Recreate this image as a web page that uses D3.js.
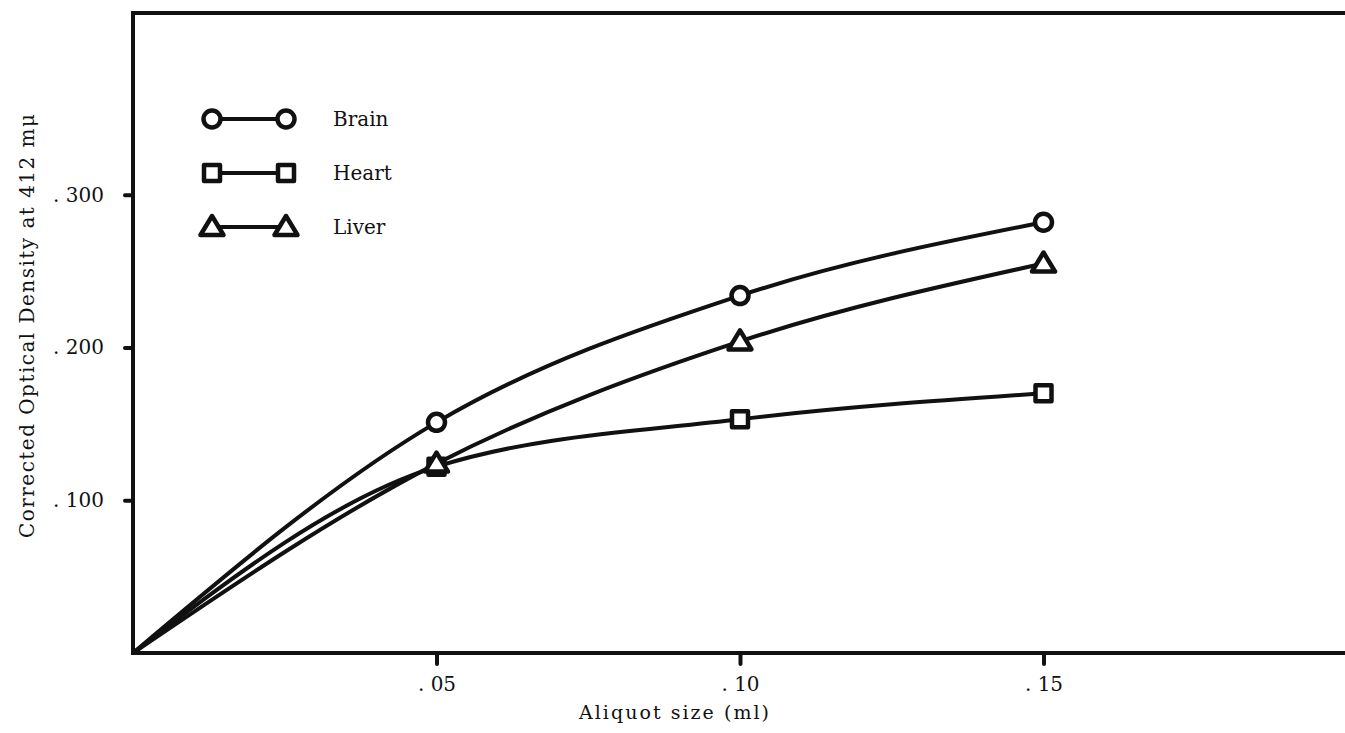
<!DOCTYPE html>
<html>
<head>
<meta charset="utf-8">
<script src="https://cdn.jsdelivr.net/npm/d3@7"></script>
<style>
  html, body { margin: 0; padding: 0; background: #fff; }
  svg text { font-family: "DejaVu Serif", "Liberation Serif", serif; fill: #111; }
</style>
</head>
<body>
<svg id="chart" width="1345" height="733"></svg>
<script>
// Aliquot sizes (ml) and corrected optical density at 412 mμ per tissue
const aliquots = [0, 0.05, 0.10, 0.15];
const brain = [0, 0.151, 0.234, 0.282];
const heart = [0, 0.122, 0.153, 0.170];
const liver = [0, 0.124, 0.204, 0.255];

const seriesNames = ["Brain", "Heart", "Liver"];
const seriesShapes = ["circle", "square", "triangle"];

const xTickValues = [0.05, 0.10, 0.15];
const xTickLabels = [". 05", ". 10", ". 15"];
const yTickValues = [0.1, 0.2, 0.3];
const yTickLabels = [". 100", ". 200", ". 300"];

const xTitle = "Aliquot size (ml)";
const yTitle = "Corrected Optical Density at 412 mμ";

const svg = d3.select("#chart");
const ink = "#111";

const x = d3.scaleLinear().domain([0, 0.2]).range([133, 1347]);
const y = d3.scaleLinear().domain([0, 0.419]).range([653, 13]);

// frame: left axis, top rule, bottom axis
const frame = svg.append("g").attr("stroke", ink).attr("stroke-width", 4).attr("fill", "none");
frame.append("path")
  .attr("d", `M1345,${y(0.419)} H${x(0)} V${y(0)} H1345`)
  .attr("stroke-linejoin", "miter");

// bottom axis ticks and labels
const xAxis = d3.axisBottom(x)
  .tickValues(xTickValues)
  .tickSize(11)
  .tickPadding(24)
  .tickFormat((d, i) => xTickLabels[i]);
const gx = svg.append("g").attr("transform", `translate(0,${y(0)})`).call(xAxis);
gx.select(".domain").remove();
gx.selectAll(".tick line").attr("stroke", ink).attr("stroke-width", 4).attr("stroke-linecap", "round");
gx.selectAll(".tick text").attr("font-size", 20).attr("fill", ink).attr("dy", "0.15em");

// left axis ticks and labels
const yAxis = d3.axisLeft(y)
  .tickValues(yTickValues)
  .tickSize(8)
  .tickPadding(21)
  .tickFormat((d, i) => yTickLabels[i]);
const gy = svg.append("g").attr("transform", `translate(${x(0)},0)`).call(yAxis);
gy.select(".domain").remove();
gy.selectAll(".tick line").attr("stroke", ink).attr("stroke-width", 4).attr("stroke-linecap", "round");
gy.selectAll(".tick text").attr("font-size", 20).attr("fill", ink);

// axis titles
svg.append("text")
  .attr("x", 674).attr("y", 719)
  .attr("text-anchor", "middle")
  .attr("font-size", 19)
  .attr("textLength", 190).attr("lengthAdjust", "spacing")
  .text(xTitle);

svg.append("text")
  .attr("transform", "translate(34,326) rotate(-90)")
  .attr("text-anchor", "middle")
  .attr("font-size", 20)
  .attr("textLength", 424).attr("lengthAdjust", "spacing")
  .text(yTitle);

// marker drawing
function drawMarker(g, shape, cx, cy) {
  const m = g.append("g").attr("transform", `translate(${cx},${cy})`)
    .attr("fill", "#fff").attr("stroke", ink).attr("stroke-width", 4.5).attr("stroke-linejoin", "round");
  if (shape === "circle") {
    m.append("circle").attr("r", 8.5);
  } else if (shape === "square") {
    m.append("rect").attr("x", -8).attr("y", -8).attr("width", 16).attr("height", 16);
  } else {
    m.append("path").attr("d", "M0,-11 L11.5,8 L-11.5,8 Z");
  }
}

const seriesData = [brain, heart, liver];
const line = d3.line()
  .x(d => x(d[0]))
  .y(d => y(d[1]))
  .curve(d3.curveMonotoneX);

const plot = svg.append("g");
seriesData.forEach(vals => {
  const pts = aliquots.map((a, i) => [a, vals[i]]);
  plot.append("path")
    .datum(pts)
    .attr("d", line)
    .attr("fill", "none")
    .attr("stroke", ink)
    .attr("stroke-width", 4)
    .attr("stroke-linecap", "round")
    .attr("stroke-linejoin", "round");
});
seriesData.forEach((vals, s) => {
  aliquots.forEach((a, i) => {
    if (a === 0) return;
    drawMarker(plot, seriesShapes[s], x(a), y(vals[i]));
  });
});

// legend
const legend = svg.append("g");
const legendRows = [119, 173, 227];
seriesNames.forEach((name, s) => {
  const ly = legendRows[s];
  legend.append("line")
    .attr("x1", 212).attr("x2", 286).attr("y1", ly).attr("y2", ly)
    .attr("stroke", ink).attr("stroke-width", 4);
  drawMarker(legend, seriesShapes[s], 212, ly);
  drawMarker(legend, seriesShapes[s], 286, ly);
  legend.append("text")
    .attr("x", 333).attr("y", ly + 7)
    .attr("font-size", 20)
    .text(name);
});
</script>
</body>
</html>
